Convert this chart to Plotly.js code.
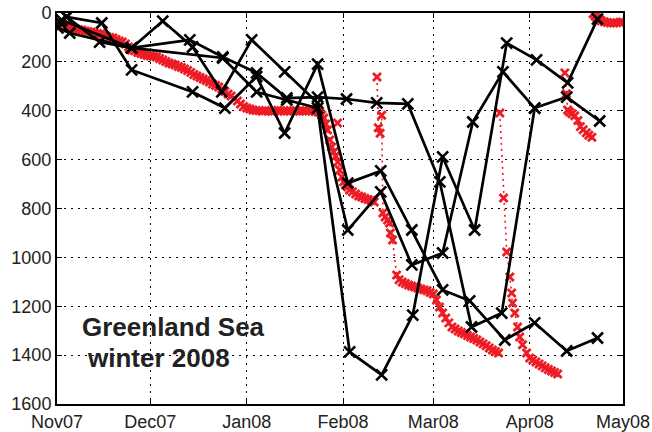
<!DOCTYPE html>
<html>
<head>
<meta charset="utf-8">
<script src="https://cdn.plot.ly/plotly-3.0.1.min.js"></script>
<style>html,body{margin:0;padding:0;background:#fff;}#chart{width:652px;height:432px;}</style>
</head>
<body>
<div id="chart"></div>
<script>
// Days since 2007-11-01 and depth (m)
// Black floats (profiles ~ every 10 days)
const f1Day = [0.9, 3.1, 14.4, 24.0, 43.6, 54.0, 64.2, 73.2, 83.8, 93.5, 104.1, 114.1, 124.0, 132.7, 144.0, 153.6, 163.9, 173.8];
const f1Depth = [37, 16, 41, 233, 323, 389, 260, 491, 209, 696, 646, 888, 1133, 1178, 1338, 1268, 1383, 1330];

const f2Day = [0.3, 4.1, 24.0, 42.7, 53.3, 64.2, 73.9, 83.8, 93.1, 102.8, 112.8, 123.1, 133.3, 143.0, 153.6, 163.9, 174.5];
const f2Depth = [61, 82, 143, 110, 180, 245, 348, 344, 352, 368, 372, 691, 1285, 1228, 389, 344, 442];

const f3Day = [3.1, 13.7, 24.0, 34.0, 43.6, 53.0, 62.6, 73.2, 83.8, 93.5, 104.1, 114.1, 124.0, 133.7, 143.4, 153.6];
const f3Depth = [16, 119, 143, 33, 139, 323, 110, 241, 368, 888, 732, 1031, 982, 446, 241, 389];

const f4Day = [1.5, 24.0, 53.3, 64.2, 73.9, 83.8, 94.1, 104.4, 114.4, 124.0, 134.3, 144.6, 154.2, 164.2, 173.8];
const f4Depth = [29, 143, 184, 323, 356, 389, 1387, 1481, 1236, 589, 888, 123, 192, 286, 25];

// Red high-resolution record, segments
const r1Day = [0,1,2,3,4,5,6,7,8,9,10,11,12,13,14,15,16,17,18,19,20,21,22,23,24,25,26,27,28,29,30,31,32,33,34,35,36,37,38,39,40,41,42,43,44,45,46,47,48,49,50,51,52,53,54,55,56,57,58,59,60,61,62,63,64,65,66,67,68,69,70,71,72,73,74,75,76,77,78,79,80,81,82,83,84,84.5,85.1,85.8,86.4,87.0,87.7,88.3,89.0,89.6,90.3,90.9,91.6,92.2,92.8,93.5,94.1,95,96,97,98,99,100,101,102];
const r1Depth = [37,41,47,53,57,61,65,68,70,74,76,78,82,84,86,90,96,100,102,108,115,119,127,139,151,155,162,166,170,174,176,178,180,186,192,198,205,209,213,219,223,229,235,243,252,258,264,270,276,282,291,297,303,311,321,331,340,350,360,372,383,389,393,397,399,400,402,399,401,403,400,398,401,402,400,399,401,400,402,401,399,400,402,403,405,405,417,430,454,479,520,548,569,585,610,642,671,691,704,712,724,732,741,749,753,759,763,767,773];

const r0Day = [90.2];
const r0Depth = [450];

const r2Day = [102.9,103.3,103.9,104.4,104.8,105.5,106.3,106.9,107.2,107.9,109.2,110,111,112,113,114,115,116,117,118,119,120,121,122,123,124,125,126,127,128,129,130,131,132,133,134,135,136,137,138,139,140,141,142];
const r2Depth = [262,470,492,418,818,835,847,859,900,929,1072,1092,1101,1107,1113,1117,1121,1125,1129,1133,1137,1144,1150,1174,1203,1228,1248,1268,1285,1293,1301,1307,1313,1320,1326,1332,1338,1346,1354,1362,1371,1379,1385,1391];

const r3Day = [142.4,143.6,144.6,145.6,146.2,146.5,147.2,148.1,148.8,149.7,151,152,153,154,155,156,157,158,159,160,161];
const r3Depth = [409,757,978,1080,1146,1187,1228,1285,1326,1358,1391,1412,1420,1428,1436,1444,1452,1459,1465,1471,1477];

const r4Day = [163.3,163.8,164.2,164.8,165.6,166.5,167.5,168.3,169.2,170.2,171,172];
const r4Depth = [245,330,397,405,412,420,440,465,478,490,500,508];

const r5Day = [172.4,173,173.6,174.3,175,176,177,178,179,180,181,181.8];
const r5Depth = [3,12,20,27,32,36,39,41,41,40,38,37];

const monthTicks = ['2007-11-01','2007-12-01','2008-01-01','2008-02-01','2008-03-01','2008-04-01','2008-05-01'];
const depthTicks = [0,200,400,600,800,1000,1200,1400,1600];
const labelLine1 = 'Greenland Sea';
const labelLine2 = 'winter 2008';

const base = Date.UTC(2007, 10, 1);
function toDate(d) {
  if (d === null) return null;
  const t = new Date(base + d * 86400000);
  return t.toISOString().slice(0, 19).replace('T', ' ');
}

const redSegs = [[r1Day, r1Depth], [r0Day, r0Depth], [r2Day, r2Depth], [r3Day, r3Depth], [r4Day, r4Depth], [r5Day, r5Depth]];
let rx = [], ry = [];
redSegs.forEach((s, i) => {
  if (i > 0) { rx.push(null); ry.push(null); }
  rx = rx.concat(s[0].map(toDate));
  ry = ry.concat(s[1]);
});

const RED = '#ed1c24';
const traces = [{
  x: rx, y: ry, type: 'scatter', mode: 'lines+markers', connectgaps: false,
  line: {color: RED, width: 1.6, dash: '2px,4px'},
  marker: {symbol: 'x-thin', size: 8, color: RED, line: {color: RED, width: 2.8}},
  hoverinfo: 'skip'
}];

[[f1Day, f1Depth], [f2Day, f2Depth], [f3Day, f3Depth], [f4Day, f4Depth]].forEach(f => {
  traces.push({
    x: f[0].map(toDate), y: f[1], type: 'scatter', mode: 'lines+markers',
    line: {color: '#000', width: 2.7},
    marker: {symbol: 'x-thin', size: 11, color: '#000', line: {color: '#000', width: 2.6}},
    hoverinfo: 'skip'
  });
});

const axisCommon = {
  showline: true, linecolor: '#000', linewidth: 2, mirror: 'ticks',
  ticks: 'inside', ticklen: 5, tickcolor: '#000', tickwidth: 1,
  showgrid: true, gridcolor: '#000', gridwidth: 1, griddash: '2px,5px',
  zeroline: false,
  tickfont: {family: 'Liberation Sans, Arial, sans-serif', size: 18, color: '#222'}
};

const layout = {
  width: 652, height: 432,
  margin: {l: 57, r: 29, t: 13, b: 28, pad: 0},
  paper_bgcolor: '#fff', plot_bgcolor: '#fff',
  showlegend: false,
  xaxis: Object.assign({}, axisCommon, {
    type: 'date', range: ['2007-11-01', '2008-05-01'],
    tickmode: 'array', tickvals: monthTicks, tickformat: '%b%y'
  }),
  yaxis: Object.assign({}, axisCommon, {
    range: [1600, 0], tickmode: 'array', tickvals: depthTicks
  }),
  annotations: [
    {xref: 'paper', yref: 'paper', x: 0.040, y: 0.197, xanchor: 'left', yanchor: 'middle',
     text: '<b>' + labelLine1 + '</b>', showarrow: false,
     font: {family: 'Liberation Sans, Arial, sans-serif', size: 26, color: '#222'}},
    {xref: 'paper', yref: 'paper', x: 0.0495, y: 0.118, xanchor: 'left', yanchor: 'middle',
     text: '<b>' + labelLine2 + '</b>', showarrow: false,
     font: {family: 'Liberation Sans, Arial, sans-serif', size: 26, color: '#222'}}
  ]
};

Plotly.newPlot('chart', traces, layout, {staticPlot: true, displayModeBar: false});
</script>
</body>
</html>
